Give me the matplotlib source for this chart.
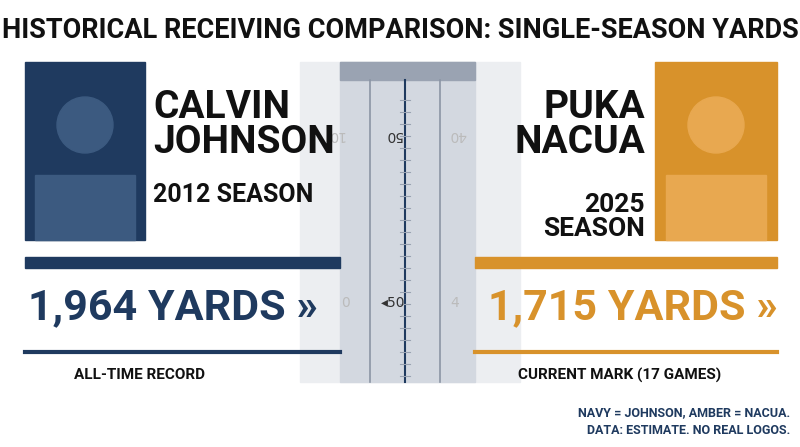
import matplotlib
matplotlib.use("Agg")
import matplotlib.pyplot as plt
from matplotlib.patches import Rectangle

FONT = ["Roboto", "DejaVu Sans"]

NAVY = "#1f3a5f"
AMBER = "#d8922b"

players = ["CALVIN\nJOHNSON", "PUKA\nNACUA"]
seasons = ["2012 SEASON", "2025\nSEASON"]
yards = [1964, 1715]
captions = ["ALL-TIME RECORD", "CURRENT MARK (17 GAMES)"]

fig = plt.figure(figsize=(8, 4.47), dpi=100)
ax = fig.add_axes([0, 0, 1, 1])
ax.set_xlim(0, 800); ax.set_ylim(447, 0); ax.axis("off")

def T(x, y, s, size, color="#111", ha="left", va="center", ls=1.0):
    ax.text(x, y, s, fontsize=size, color=color, ha=ha, va=va, family=FONT,
            fontweight="bold", linespacing=ls, zorder=5)

T(400, 30, "HISTORICAL RECEIVING COMPARISON: SINGLE-SEASON YARDS", 19.5, ha="center")

# field
ax.add_patch(Rectangle((300, 62), 220, 320, color="#eceef1", zorder=0))
ax.add_patch(Rectangle((340, 62), 135, 320, color="#d3d8e0", zorder=0))
ax.add_patch(Rectangle((340, 62), 135, 18, color="#9aa3b2", zorder=0))
for x in [370, 440]:
    ax.plot([x, x], [80, 382], color="#8b95a5", lw=1.2, zorder=1)
ax.plot([405, 405], [80, 382], color=NAVY, lw=1.5, zorder=1)
for y in range(100, 380, 12):
    ax.plot([400, 410], [y, y], color="#9aa3b2", lw=0.8, zorder=1)
ax.text(393, 135, "50", fontsize=10, color="#333", ha="center", va="center", rotation=180)
ax.text(393, 303, "◂50", fontsize=10, color="#333", ha="center", va="center")
ax.text(336, 135, "10", fontsize=10, color="#bbb", ha="center", va="center", rotation=180)
ax.text(458, 135, "40", fontsize=10, color="#bbb", ha="center", va="center", rotation=180)
ax.text(346, 303, "0", fontsize=10, color="#bbb", ha="center", va="center")
ax.text(455, 303, "4", fontsize=10, color="#bbb", ha="center", va="center")

# photo boxes
ax.add_patch(Rectangle((25, 62), 120, 178, color=NAVY, zorder=2))
ax.add_patch(Rectangle((655, 62), 122, 178, color=AMBER, zorder=2))
for cx, c in [(85, "#3c5a80"), (716, "#e8a850")]:
    ax.add_patch(plt.Circle((cx, 125), 28, color=c, zorder=3))
    ax.add_patch(Rectangle((cx - 50, 175), 100, 65, color=c, zorder=3))

T(153, 125, players[0], 28, va="center", ls=0.95)
T(153, 195, seasons[0], 18)
T(645, 125, players[1], 28, ha="right", ls=0.95)
T(645, 217, seasons[1], 19, ha="right", ls=1.0)

# bars
ax.add_patch(Rectangle((25, 257), 315, 11, color=NAVY, zorder=2))
ax.add_patch(Rectangle((475, 257), 302, 11, color=AMBER, zorder=2))
ax.plot([25, 340], [352, 352], color=NAVY, lw=3)
ax.plot([475, 777], [352, 352], color=AMBER, lw=3)

T(28, 308, f"{yards[0]:,} YARDS »", 31, color=NAVY)
T(778, 308, f"{yards[1]:,} YARDS »", 31, color=AMBER, ha="right")
T(140, 375, captions[0], 11, ha="center")
T(620, 375, captions[1], 11, ha="center")

T(790, 413, "NAVY = JOHNSON, AMBER = NACUA.", 9, color=NAVY, ha="right")
T(790, 430, "DATA: ESTIMATE. NO REAL LOGOS.", 9, color=NAVY, ha="right")

fig.savefig("out.png", dpi=100)
